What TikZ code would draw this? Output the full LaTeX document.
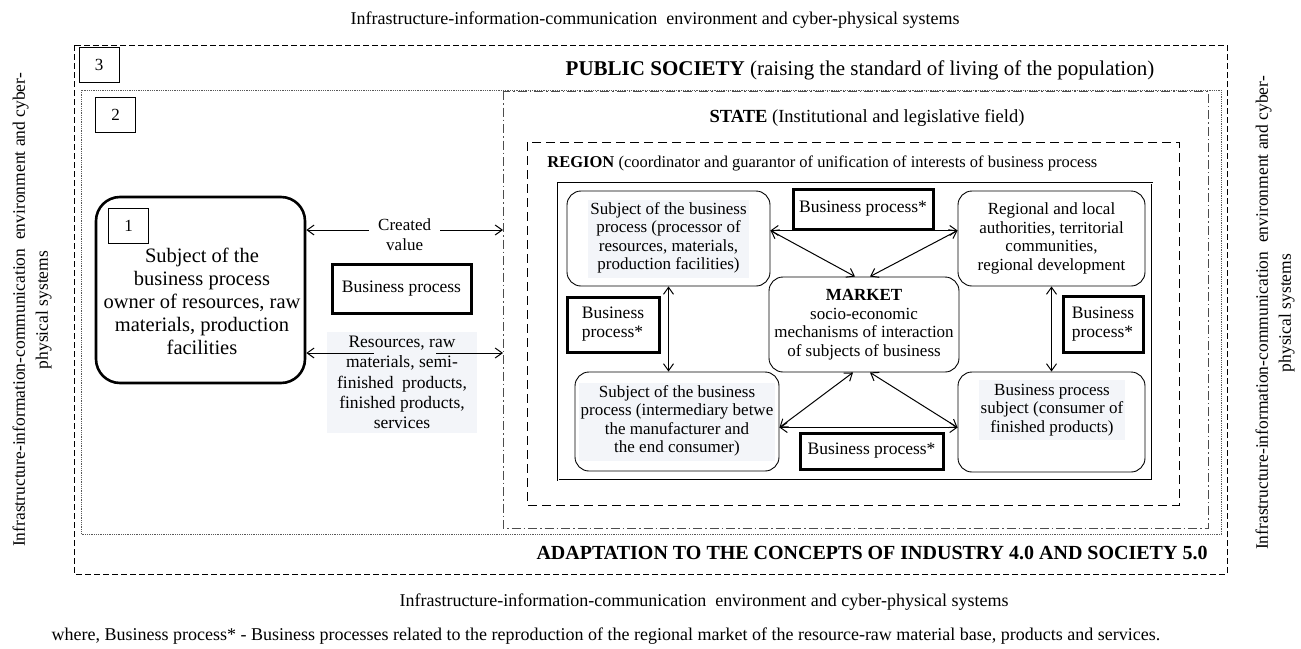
\documentclass[tikz,border=0pt]{standalone}
\usepackage{fontspec}
\setmainfont{Liberation Serif}
\usepackage{tikz}
\usetikzlibrary{arrows.meta}
\definecolor{paper}{HTML}{F3F5F9}
\newcommand{\softbg}[1]{{\setlength{\fboxsep}{2pt}\colorbox{paper}{\begin{tabular}{@{}c@{}}#1\end{tabular}}}}

\begin{document}
\begin{tikzpicture}[x=1pt, y=-1pt, line width=0.9pt,
    >={Straight Barb[length=7pt,width=10pt]},
    every node/.style={font=\fontsize{17}{18.5}\selectfont, inner sep=0pt},
    caption/.style={font=\fontsize{18}{22}\selectfont},
    sidetext/.style={rotate=90, align=center, font=\fontsize{17.5}{23}\selectfont},
    numbox/.style={draw, line width=0.9pt, minimum width=40pt, minimum height=35pt},
    ownbox/.style={draw, line width=2.6pt, rounded corners=24pt},
    inbox/.style={draw, line width=0.9pt, rounded corners=14pt, align=center},
    bpbox/.style={draw, line width=3pt, align=left, font=\fontsize{17.5}{19}\selectfont},
    lvlthree/.style={dash pattern=on 6pt off 3pt, line width=0.9pt},
    lvltwo/.style={dash pattern=on 1pt off 0.8pt, line width=0.9pt, black!65},
    statefield/.style={dash pattern=on 9pt off 3pt on 1.5pt off 3pt, line width=1pt, black!70},
    regionfield/.style={dash pattern=on 9pt off 5pt, line width=1pt},
    marketfield/.style={double, double distance=1pt, line width=0.5pt},
    link/.style={<->, line width=1pt}]
  \useasboundingbox (0,0) rectangle (1301,648);

  \draw[lvlthree] (74,45) rectangle (1227,574);
  \draw[lvltwo] (81,90) rectangle (1221,534);
  \draw[statefield] (503,91) rectangle (1208,528);
  \draw[regionfield] (527,142) rectangle (1179,505);
  \draw[marketfield] (558,183) rectangle (1152,480);

  \node (toptitle) [caption] at (655,20) {Infrastructure-information-communication\enspace environment and cyber-physical systems};
  \node (bottitle) [caption] at (704,602) {Infrastructure-information-communication\enspace environment and cyber-physical systems};
  \node (leftside) [sidetext] at (32,310) {Infrastructure-information-communication\enspace environment and cyber-\\physical systems};
  \node (rightside) [sidetext] at (1275,313) {Infrastructure-information-communication\enspace environment and cyber-\\physical systems};
  \node (public) [font=\fontsize{21}{24}\selectfont] at (860,70) {\textbf{PUBLIC SOCIETY} (raising the standard of living of the population)};
  \node (state) [font=\fontsize{18.5}{22}\selectfont] at (867,118) {\textbf{STATE} (Institutional and legislative field)};
  \node (region) [font=\fontsize{16.5}{20}\selectfont, anchor=west] at (547,163) {\textbf{REGION} (coordinator and guarantor of unification of interests of business process};
  \node (adapt) [font=\bfseries\fontsize{20}{24}\selectfont, anchor=east] at (1208,553) {ADAPTATION TO THE CONCEPTS OF INDUSTRY 4.0 AND SOCIETY 5.0};
  \node (note) [font=\fontsize{18}{20}\selectfont] at (606,636) {where, Business process* - Business processes related to the reproduction of the regional market of the resource-raw material base, products and services.};

  \node (n3) [numbox] at (99,64.5) {3};
  \node (n2) [numbox] at (115.5,115) {2};
  \node (own) [ownbox, minimum width=209pt, minimum height=186pt] at (200.5,290) {};
  \node (n1) [numbox] at (128.5,226) {1};
  \node (ownlbl) [font=\fontsize{20.5}{23}\selectfont, align=center] at (202,301) {Subject of the\\business process\\owner of resources, raw\\materials, production\\facilities};
  \node (bp) [bpbox, minimum width=139pt, minimum height=49pt] at (401.5,288.5) {Business process};
  \node (goods) [font=\fontsize{17.5}{20.25}\selectfont, fill=paper, align=center, minimum width=150pt, minimum height=101pt] at (402,382.5) {Resources, raw\\materials, semi-\\finished\enspace products,\\finished products,\\services};
  \coordinate (valuein) at (503,230);
  \coordinate (flowin) at (503,353);
  \path[link]
    (own.east |- valuein) edge node (value) [fill=white, inner xsep=9pt, inner ysep=1pt, yshift=-5pt, align=center, font=\fontsize{17}{20}\selectfont] {Created\\value} (valuein)
    (own.east |- flowin) edge node (gap) [fill=paper, minimum width=62pt, minimum height=3pt] {} (flowin);

  \node (tl) [inbox, minimum width=203pt, minimum height=95pt] at (668.5,238.5) {\softbg{Subject of the business\\process (processor of\\resources, materials,\\production facilities)}};
  \node (tr) [inbox, minimum width=187pt, minimum height=95pt] at (1051.5,238.5) {Regional and local\\authorities, territorial\\communities,\\regional development};
  \node (mk) [inbox, minimum width=190pt, minimum height=95pt] at (864,324.5) {\textbf{MARKET}\\socio-economic\\mechanisms of interaction\\of subjects of business};
  \node (bl) [inbox, minimum width=204pt, minimum height=99pt] at (677,421.5) {\softbg{Subject of the business\\process (intermediary betwe\\the manufacturer and\\the end consumer)}};
  \node (br) [inbox, minimum width=187pt, minimum height=100pt] at (1051.5,422) {};
  \node (brtext) at (1052,410) {\softbg{Business process\\subject (consumer of\\finished products)}};
  \node (bpt) [bpbox, minimum width=140pt, minimum height=40pt] at (863,209) {Business process*};
  \node (bpl) [bpbox, minimum width=92pt, minimum height=55pt] at (613,324.5) {Business\\process*};
  \node (bpr) [bpbox, minimum width=80pt, minimum height=56pt] at (1103,324) {Business\\process*};
  \node (bpb) [bpbox, minimum width=143pt, minimum height=36pt] at (871.5,451) {Business process*};

  \path[link]
    (tl.east |- bpt.south) edge (tr.west |- bpt.south)
    (tl.east |- bpt.south) edge ([xshift=-9pt]mk.north)
    (tr.west |- bpt.south) edge ([xshift=6pt]mk.north)
    (tl.south) edge (tl.south |- bl.north)
    (tr.south) edge (tr.south |- br.north)
    ([yshift=4pt]bpb.north -| bl.east) edge ([yshift=4pt]bpb.north -| br.west)
    ([yshift=4pt]bpb.north -| bl.east) edge ([xshift=-11pt]mk.south)
    ([yshift=4pt]bpb.north -| br.west) edge ([xshift=6pt]mk.south);
\end{tikzpicture}
\end{document}
